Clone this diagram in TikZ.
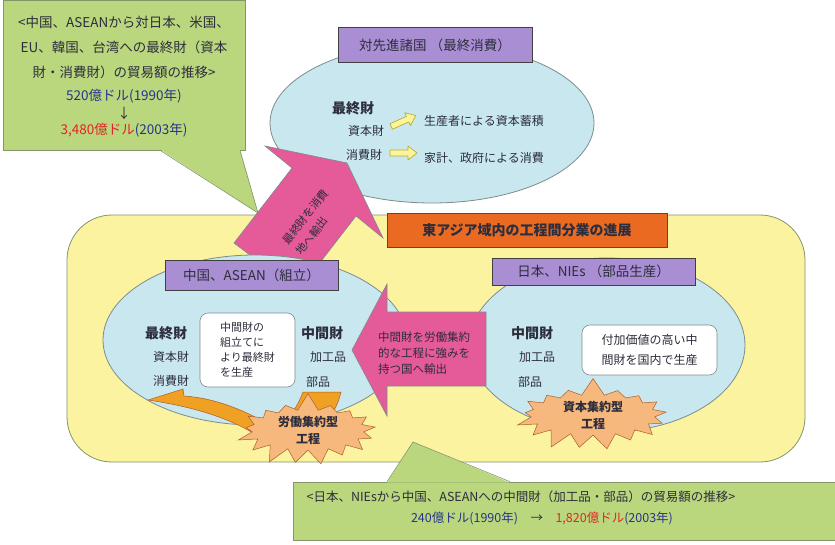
\documentclass[tikz,border=0pt]{standalone}
\usepackage{fontspec}
\setmainfont{Noto Sans CJK JP}
\usetikzlibrary{shapes.geometric,shapes.symbols}

\definecolor{verde}{RGB}{186,215,125}
\definecolor{bordeverde}{RGB}{130,150,105}
\definecolor{amarillo}{RGB}{251,243,160}
\definecolor{celeste}{RGB}{200,231,239}
\definecolor{gris}{RGB}{125,140,140}
\definecolor{morado}{RGB}{170,142,212}
\definecolor{naranja}{RGB}{234,106,34}
\definecolor{rosa}{RGB}{229,90,152}
\definecolor{ocre}{RGB}{240,160,34}
\definecolor{marron}{RGB}{170,95,40}
\definecolor{salmon}{RGB}{246,184,124}
\definecolor{crema}{RGB}{250,245,150}
\definecolor{mostaza}{RGB}{190,170,60}
\definecolor{azul}{RGB}{40,52,140}
\definecolor{rojo}{RGB}{222,38,38}
\definecolor{tinta}{RGB}{45,45,60}

\begin{document}
\begin{tikzpicture}[x=1pt,y=-1pt]

	%DEFINICIONES
	\tikzstyle{every node}=[font=\fontsize{12}{15}\selectfont, text=tinta]
	\tikzstyle{grande} = [font=\fontsize{13.5}{25}\selectfont]
	\tikzstyle{titulo} = [font=\bfseries\fontsize{14}{16}\selectfont]
	\tikzstyle{globo} = [draw=bordeverde, fill=verde, line width=0.6pt]
	\tikzstyle{fondo} = [draw=bordeverde, fill=amarillo, line width=0.8pt, rounded corners=45pt]
	\tikzstyle{elipse} = [draw=gris, fill=celeste, ellipse, line width=0.8pt]
	\tikzstyle{etiqueta} = [draw=black!75, fill=morado, line width=0.6pt, font=\fontsize{13.5}{16}\selectfont]
	\tikzstyle{banda} = [draw=black!70, fill=naranja, line width=0.6pt, font=\bfseries\fontsize{14}{16}\selectfont]
	\tikzstyle{caja} = [draw=gris, fill=white, rounded corners=8pt, align=left, line width=0.6pt]
	\tikzstyle{bloque} = [draw=gris, fill=rosa, line width=0.6pt]
	\tikzstyle{flechita} = [draw=mostaza, fill=crema, line width=0.7pt, line join=round]
	\tikzstyle{curva} = [draw=marron, fill=ocre, line width=0.5pt]
	\tikzstyle{estrella} = [starburst, starburst points=17, starburst point height=18pt, random starburst=7, draw=marron, fill=salmon, align=center, font=\bfseries\fontsize{12}{17}\selectfont, inner sep=0pt, line width=0.5pt]

	\useasboundingbox (0,0) rectangle (835,544);
	\fill[white] (0,0) rectangle (835,544);

	%GLOBO SUPERIOR
	\draw(124,75) node[globo, minimum width=242pt, minimum height=150pt](cuadro1){};
	\coordinate (p1) at (258,213);
	\fill[verde] ([xshift=36pt,yshift=1pt]cuadro1.south) -- (p1) -- ([xshift=116pt,yshift=1pt]cuadro1.south) -- cycle;
	\draw[bordeverde, line width=0.6pt] ([xshift=36pt]cuadro1.south) -- (p1) -- ([xshift=116pt]cuadro1.south);
	\draw(124,47) node[grande, align=center](g1){<中国、ASEANから対日本、米国、\\EU、韓国、台湾への最終財（資本\\財・消費財）の貿易額の推移>};
	\draw(124,96) node[grande](g2){\textcolor{azul}{520億ドル(1990年)}};
	\draw(124,113) node[grande](g3){↓};
	\draw(124,130) node[grande](g4){\textcolor{rojo}{3,480億ドル}\textcolor{azul}{(2003年)}};

	%ELIPSE SUPERIOR
	\draw(432,123) node[elipse, minimum width=324pt, minimum height=160pt](e1){};
	\draw(435,45) node[etiqueta, minimum width=194pt, minimum height=35pt](l1){対先進諸国 （最終消費）};
	\draw(353,108) node[titulo](a1){最終財};
	\draw(366,131) node(a2){資本財};
	\draw(364,155) node(a3){消費財};
	\begin{scope}[shift={(403.5,121)}, rotate=24]	%FLECHITA 1
		\draw[flechita] (-13.5,-3) -- (4.5,-3) -- (4.5,-7) -- (13.5,0) -- (4.5,7) -- (4.5,3) -- (-13.5,3) -- cycle;
	\end{scope}
	\begin{scope}[shift={(403.5,153)}]	%FLECHITA 2
		\draw[flechita] (-13.5,-3) -- (4.5,-3) -- (4.5,-7) -- (13.5,0) -- (4.5,7) -- (4.5,3) -- (-13.5,3) -- cycle;
	\end{scope}
	\draw(484,121) node(a4){生産者による資本蓄積};
	\draw(484,158) node(a5){家計、政府による消費};

	%FONDO
	\draw(436,338.5) node[fondo, minimum width=738pt, minimum height=247pt](marco){};

	%FLECHA HACIA ARRIBA
	\draw[bloque] (234,243) -- (292,168) -- (265,146) -- (347,163) -- (383,238) -- (356,216) -- (298,291) -- cycle;
	\draw(312,222) node[rotate=52, align=left, font=\fontsize{11}{17}\selectfont](t1){最終財を消費\\地へ輸出};

	\draw(527,230) node[banda, minimum width=280pt, minimum height=34pt](b1){東アジア域内の工程間分業の進展};

	%ELIPSES
	\draw(255,340) node[elipse, minimum width=304pt, minimum height=170pt](e2){};
	\draw(607,345) node[elipse, minimum width=276pt, minimum height=174pt](e3){};
	\draw(251.5,275) node[etiqueta, minimum width=173pt, minimum height=30pt](l2){中国、ASEAN（組立）};
	\draw(593.5,271.5) node[etiqueta, minimum width=203pt, minimum height=27pt](l3){日本、NIEs （部品生産）};

	%IZQUIERDA
	\draw(166,333) node[titulo](m1){最終財};
	\draw(171,357) node(m2){資本財};
	\draw(171,381) node(m3){消費財};
	\draw(247.5,350) node[caja, minimum width=95pt, minimum height=74pt, font=\fontsize{11}{15}\selectfont](c1){中間財の\\組立てに\\より最終財\\を生産};
	\draw(322,333) node[titulo](m4){中間財};
	\draw(328,357) node(m5){加工品};
	\draw(318,382) node(m6){部品};

	%DERECHA
	\draw(532,333) node[titulo](d1){中間財};
	\draw(537,357) node(d2){加工品};
	\draw(530,382) node(d3){部品};
	\draw(649.5,350) node[caja, minimum width=135pt, minimum height=50pt, font=\fontsize{12}{20}\selectfont](c2){付加価値の高い中\\間財を国内で生産};

	%FLECHA HACIA LA IZQUIERDA
	\draw[bloque] (352,350) -- (387,284) -- (387,312) -- (486,312) -- (486,386) -- (387,386) -- (387,416) -- cycle;
	\draw(424,353) node[align=left, font=\fontsize{11.5}{16}\selectfont](t2){中間財を労働集約\\的な工程に強みを\\持つ国へ輸出};

	%FLECHA CURVA Y ESTRELLAS
	\draw[curva] (148,400) -- (183,389) -- (184,396) .. controls (215,398) and (245,410) .. (275,428) .. controls (290,420) and (298,405) .. (303,392) -- (341,392) .. controls (335,420) and (310,445) .. (270,445) .. controls (240,420) and (195,407) .. cycle;
	\draw(308,430) node[estrella, minimum width=148pt, minimum height=64pt](s1){労働集約型\\工程};
	\draw(593,415) node[estrella, minimum width=160pt, minimum height=62pt](s2){資本集約型\\工程};

	%GLOBO INFERIOR
	\draw(566.5,511) node[globo, minimum width=547pt, minimum height=58pt](cuadro2){};
	\coordinate (p2) at (413,442);
	\fill[verde] ([xshift=-179.5pt,yshift=-1pt]cuadro2.north) -- (p2) -- ([xshift=-56.5pt,yshift=-1pt]cuadro2.north) -- cycle;
	\draw[bordeverde, line width=0.6pt] ([xshift=-179.5pt]cuadro2.north) -- (p2) -- ([xshift=-56.5pt]cuadro2.north);
	\draw(521,497) node[font=\fontsize{12.5}{15}\selectfont](n1){<日本、NIEsから中国、ASEANへの中間財（加工品・部品）の貿易額の推移>};
	\draw(542,518) node[font=\fontsize{12.5}{15}\selectfont](n2){\textcolor{azul}{240億ドル(1990年)}\quad →\quad \textcolor{rojo}{1,820億ドル}\textcolor{azul}{(2003年)}};
\end{tikzpicture}
\end{document}
